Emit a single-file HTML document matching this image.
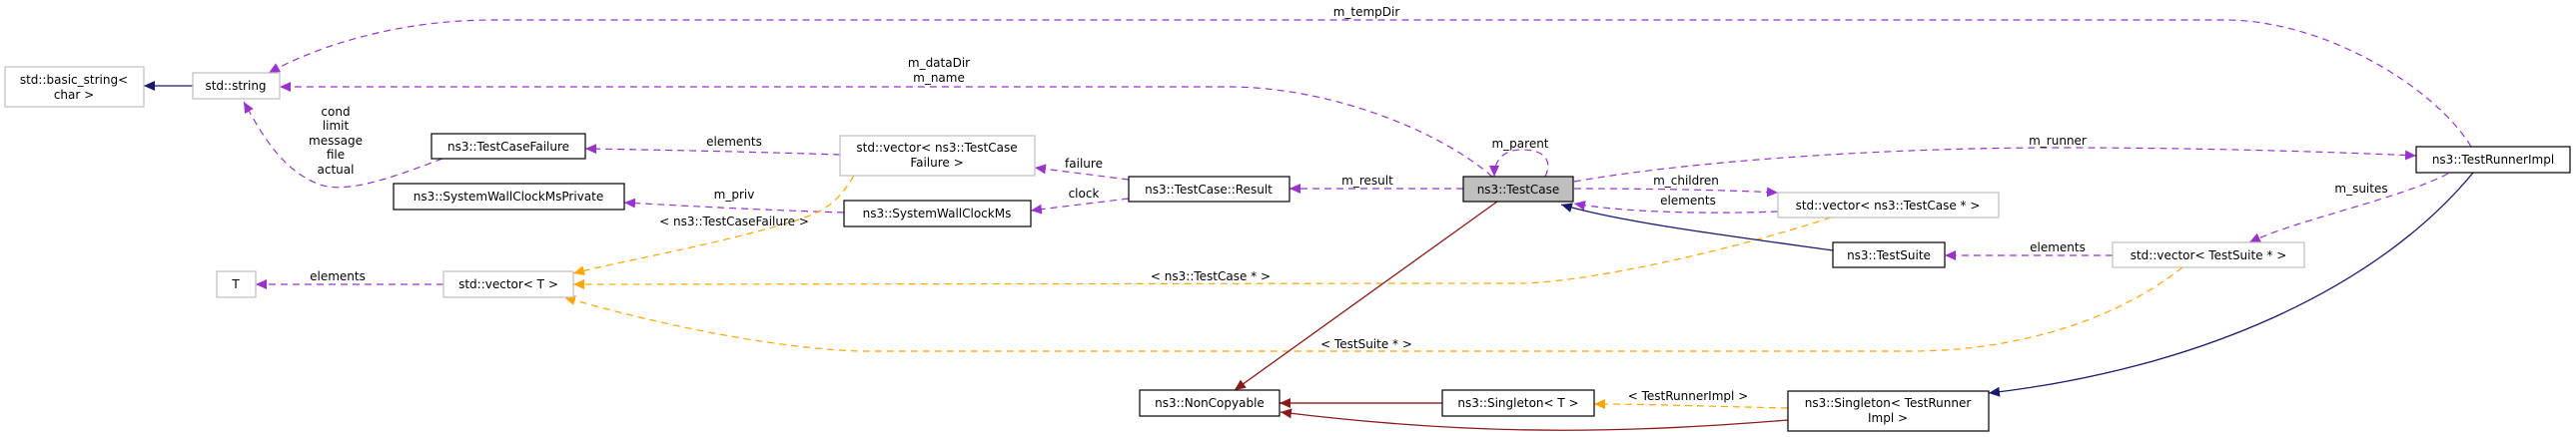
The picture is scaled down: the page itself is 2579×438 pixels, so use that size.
<!DOCTYPE html>
<html><head><meta charset="utf-8"><style>
html,body{margin:0;padding:0;background:#fff;}
svg{display:block;}
text{font-family:"DejaVu Sans","Liberation Sans",sans-serif;font-size:12px;fill:#000;}
</style></head><body>
<svg width="2579" height="438" viewBox="0 0 2579 438" xmlns="http://www.w3.org/2000/svg">
<defs>
<marker id="ap" markerUnits="userSpaceOnUse" markerWidth="12" markerHeight="10" refX="11" refY="5" orient="auto"><path d="M0,0 L11,5 L0,10 Z" fill="#9a32cd"/></marker>
<marker id="ao" markerUnits="userSpaceOnUse" markerWidth="12" markerHeight="10" refX="11" refY="5" orient="auto"><path d="M0,0 L11,5 L0,10 Z" fill="#ffa500"/></marker>
<marker id="an" markerUnits="userSpaceOnUse" markerWidth="12" markerHeight="10" refX="11" refY="5" orient="auto"><path d="M0,0 L11,5 L0,10 Z" fill="#191970"/></marker>
<marker id="ar" markerUnits="userSpaceOnUse" markerWidth="12" markerHeight="10" refX="11" refY="5" orient="auto"><path d="M0,0 L11,5 L0,10 Z" fill="#8b1a1a"/></marker>
</defs>
<g fill="none" stroke="#9a32cd" stroke-width="1.2" stroke-dasharray="7,5" marker-end="url(#ap)">
<path d="M2474,147 C2440,90 2330,20 2227,20 L494,20 C400,20 320,45 269,73"/>
<path d="M1494,177 C1440,130 1330,87 1230,87 L280,87"/>
<path d="M1547,177 C1555,160 1545,150 1524,150 C1505,150 1496,160 1496,177"/>
<path d="M1576,182 C1700,160 1900,148 2059,148 C2200,148 2330,152 2419,156"/>
<path d="M1576,189 C1640,189 1720,190 1780,193"/>
<path d="M1780,212 C1700,215 1620,212 1576,204"/>
<path d="M1465,189 L1291,189"/>
<path d="M1130,180 L1036,168"/>
<path d="M1130,199 L1032,211"/>
<path d="M841,155 C750,152 650,150 586,149"/>
<path d="M845,213 C750,210 680,206 625,203"/>
<path d="M443,159 C400,175 350,195 320,185 C280,170 260,130 244,102"/>
<path d="M444,285 L256,285"/>
<path d="M2451,174 C2400,200 2300,220 2252,243"/>
<path d="M2115,256 L1947,256"/>
</g>
<g fill="none" stroke="#ffa500" stroke-width="1.2" stroke-dasharray="7,5" marker-end="url(#ao)">
<path d="M855,176 C840,200 830,210 800,220 C720,245 620,262 574,274"/>
<path d="M1833,218 C1720,255 1580,284 1520,284 L574,285"/>
<path d="M2185,268 C2120,320 2020,352 1913,352 L860,352 C760,348 640,320 565,298"/>
<path d="M1790,409 C1700,407 1650,405 1596,405"/>
</g>
<g fill="none" stroke-width="1.3">
<path d="M193,86 L144,86" stroke="#191970" marker-end="url(#an)"/>
<path d="M1835,251 C1720,235 1620,222 1563,205" stroke="#191970" marker-end="url(#an)"/>
<path d="M2476,173 C2380,290 2200,370 1991,394" stroke="#191970" marker-end="url(#an)"/>
<path d="M1499,202 L1236,391" stroke="#8b1a1a" marker-end="url(#ar)"/>
<path d="M1444,404 L1281,404" stroke="#b06060" stroke-width="2" marker-end="url(#ar)"/>
<path d="M1790,421 C1650,432 1500,440 1282,413" stroke="#8b1a1a" marker-end="url(#ar)"/>
</g>
<g stroke-width="1.2">
<rect x="5" y="67" width="139" height="40" fill="#fff" stroke="#bfbfbf"/>
<rect x="193" y="73" width="87" height="26" fill="#fff" stroke="#bfbfbf"/>
<rect x="432" y="134" width="154" height="25" fill="#fff" stroke="#000"/>
<rect x="394" y="184" width="231" height="26" fill="#fff" stroke="#000"/>
<rect x="217" y="272" width="39" height="26" fill="#fff" stroke="#bfbfbf"/>
<rect x="444" y="272" width="130" height="26" fill="#fff" stroke="#bfbfbf"/>
<rect x="841" y="136" width="195" height="40" fill="#fff" stroke="#bfbfbf"/>
<rect x="845" y="201" width="187" height="26" fill="#fff" stroke="#000"/>
<rect x="1130" y="177" width="161" height="25" fill="#fff" stroke="#000"/>
<rect x="1465" y="177" width="110" height="25" fill="#bfbfbf" stroke="#000"/>
<rect x="1780" y="193" width="221" height="25" fill="#fff" stroke="#bfbfbf"/>
<rect x="2419" y="147" width="154" height="26" fill="#fff" stroke="#000"/>
<rect x="1835" y="243" width="112" height="25" fill="#fff" stroke="#000"/>
<rect x="2115" y="243" width="192" height="25" fill="#fff" stroke="#bfbfbf"/>
<rect x="1790" y="392" width="201" height="40" fill="#fff" stroke="#000"/>
<rect x="1141" y="391" width="140" height="26" fill="#fff" stroke="#000"/>
<rect x="1444" y="391" width="152" height="26" fill="#fff" stroke="#000"/>
</g>
<g text-anchor="middle">
<text x="74" y="84">std::basic_string&lt;</text><text x="74" y="99">char &gt;</text>
<text x="236" y="90">std::string</text>
<text x="509" y="151">ns3::TestCaseFailure</text>
<text x="509" y="201">ns3::SystemWallClockMsPrivate</text>
<text x="236" y="289">T</text>
<text x="509" y="289">std::vector&lt; T &gt;</text>
<text x="938" y="152">std::vector&lt; ns3::TestCase</text><text x="938" y="167">Failure &gt;</text>
<text x="938" y="218">ns3::SystemWallClockMs</text>
<text x="1210" y="194">ns3::TestCase::Result</text>
<text x="1520" y="194">ns3::TestCase</text>
<text x="1890" y="210">std::vector&lt; ns3::TestCase * &gt;</text>
<text x="2496" y="164">ns3::TestRunnerImpl</text>
<text x="1891" y="260">ns3::TestSuite</text>
<text x="2211" y="260">std::vector&lt; TestSuite * &gt;</text>
<text x="1890" y="408">ns3::Singleton&lt; TestRunner</text><text x="1890" y="423">Impl &gt;</text>
<text x="1211" y="408">ns3::NonCopyable</text>
<text x="1520" y="408">ns3::Singleton&lt; T &gt;</text>
<text x="1368" y="16">m_tempDir</text>
<text x="940" y="67">m_dataDir</text><text x="940" y="82">m_name</text>
<text x="1522" y="148">m_parent</text>
<text x="2060" y="145">m_runner</text>
<text x="1688" y="185">m_children</text>
<text x="1690" y="205">elements</text>
<text x="1369" y="185">m_result</text>
<text x="1085" y="168">failure</text>
<text x="1085" y="198">clock</text>
<text x="735" y="146">elements</text>
<text x="735" y="199">m_priv</text>
<text x="336" y="116">cond</text><text x="336" y="130">limit</text><text x="336" y="145">message</text><text x="336" y="159">file</text><text x="336" y="174">actual</text>
<text x="338" y="281">elements</text>
<text x="735" y="226">&lt; ns3::TestCaseFailure &gt;</text>
<text x="1212" y="281">&lt; ns3::TestCase * &gt;</text>
<text x="1368" y="349">&lt; TestSuite * &gt;</text>
<text x="2364" y="193">m_suites</text>
<text x="2060" y="252">elements</text>
<text x="1690" y="401">&lt; TestRunnerImpl &gt;</text>
</g>
</svg>
</body></html>
